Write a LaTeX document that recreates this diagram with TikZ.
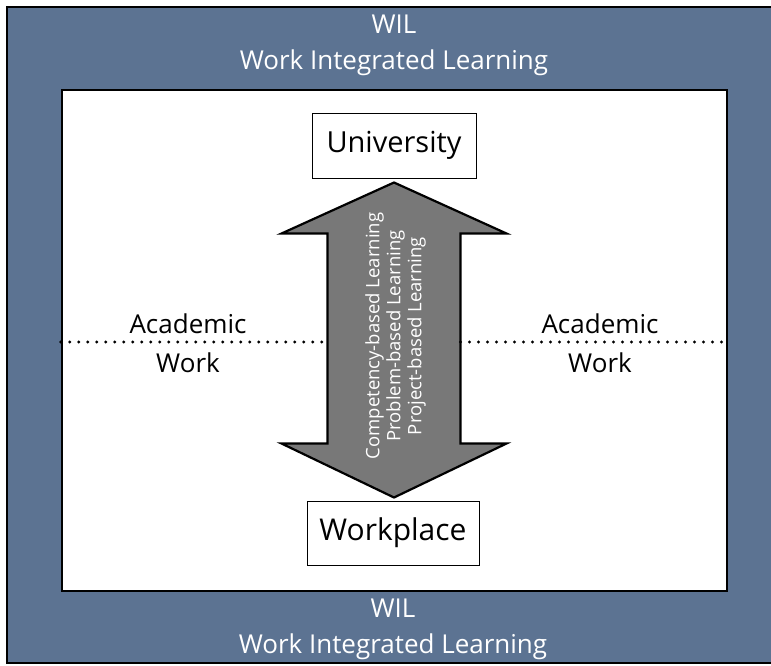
\documentclass[tikz,border=0pt]{standalone}
\usepackage{fontspec}
\setmainfont{Open Sans}
\usepackage{tikz}
\definecolor{slate}{RGB}{92,115,146}
\definecolor{arrowgrey}{RGB}{120,120,120}
\newcommand{\drawframe}{\draw[line width=2pt]}
\tikzset{
  place/.style={draw, line width=1pt, fill=white, inner sep=0pt},
  wiltext/.style={text=white, align=center, font=\fontsize{26}{36}\selectfont},
  sidetext/.style={align=center, font=\fontsize{26}{39}\selectfont},
  dotline/.style={line width=3.2pt, line cap=round, dash pattern=on 0pt off 9pt},
  bigarrow/.style={draw, line width=2.2pt, line join=miter, fill=arrowgrey},
}

\begin{document}
\begin{tikzpicture}[x=1pt,y=-1pt]
\clip (0,0) rectangle (771,665);
\fill[white] (0,0) rectangle (771,665);
% frame and field
\drawframe[fill=slate] (7,7) rectangle (780,663);
\node[draw, line width=2.5pt, fill=white, minimum width=665pt, minimum height=501pt, inner sep=0pt] (field) at (394.5,340.5) {};
\node[wiltext] (wiltop) at (394,45) {WIL\\Work Integrated Learning};
\node[wiltext] (wilbottom) at (393,629.5) {WIL\\Work Integrated Learning};
% the two ends
\node[place, minimum width=164pt, minimum height=65pt, font=\fontsize{29}{34}\selectfont] (uni) at (394,145.5) {University};
\node[place, minimum width=172pt, minimum height=64pt, font=\fontsize{30}{35}\selectfont] (work) at (393,533) {Workplace};
% arrow between them
\draw[bigarrow] ([yshift=-4pt]uni.south) --++(112.5,51) --++(-46,0) coordinate (shaftR) --++(0,210) --++(46,0) --++(-112.5,54) coordinate (tipB) --++(-112.5,-54) --++(46,0) --++(0,-210) coordinate (shaftL) --++(-46,0) --cycle;
\node[rotate=90, text=white, align=center, font=\fontsize{18.5}{21}\selectfont] (ways) at (395.5,336) {Competency-based Learning\\Problem-based Learning\\Project-based Learning};
% academic / work
\coordinate (mid) at (395.5,342);
\draw[dotline] (field.west |- mid) -- (shaftL |- mid);
\draw[dotline] (shaftR |- mid) -- (field.east |- mid);
\node[sidetext] (sideL) at (188,343.5) {Academic\\Work};
\node[sidetext] (sideR) at (600,343.5) {Academic\\Work};
\end{tikzpicture}
\end{document}
